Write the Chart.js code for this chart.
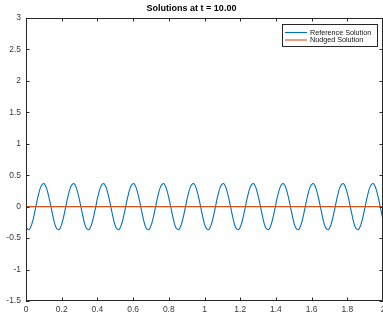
<!DOCTYPE html>
<html>
<head>
<meta charset="utf-8">
<script src="https://cdn.jsdelivr.net/npm/chart.js@4/dist/chart.umd.min.js"></script>
<style>
  html, body { margin: 0; padding: 0; background: #fff; }
  #wrap { width: 383px; height: 320px; }
</style>
</head>
<body>
<div id="wrap"><canvas id="solutions"></canvas></div>
<script>
// values (reference oscillation, nudged flat line)
const refX = [
  0, 0.0168, 0.0335, 0.0503, 0.0671, 0.0839, 0.1006, 0.1174, 0.1342, 0.1509,
  0.1677, 0.1845, 0.2012, 0.218, 0.2348, 0.2516, 0.2683, 0.2851, 0.3019, 0.3186,
  0.3354, 0.3522, 0.3689, 0.3857, 0.4025, 0.4193, 0.436, 0.4528, 0.4696, 0.4863,
  0.5031, 0.5199, 0.5366, 0.5534, 0.5702, 0.587, 0.6037, 0.6205, 0.6373, 0.654,
  0.6708, 0.6876, 0.7043, 0.7211, 0.7379, 0.7547, 0.7714, 0.7882, 0.805, 0.8217,
  0.8385, 0.8553, 0.872, 0.8888, 0.9056, 0.9224, 0.9391, 0.9559, 0.9727, 0.9894,
  1.0062, 1.023, 1.0397, 1.0565, 1.0733, 1.0901, 1.1068, 1.1236, 1.1404, 1.1571,
  1.1739, 1.1907, 1.2074, 1.2242, 1.241, 1.2578, 1.2745, 1.2913, 1.3081, 1.3248,
  1.3416, 1.3584, 1.3751, 1.3919, 1.4087, 1.4255, 1.4422, 1.459, 1.4758, 1.4925,
  1.5093, 1.5261, 1.5428, 1.5596, 1.5764, 1.5932, 1.6099, 1.6267, 1.6435, 1.6602,
  1.677, 1.6938, 1.7105, 1.7273, 1.7441, 1.7609, 1.7776, 1.7944, 1.8112, 1.8279,
  1.8447, 1.8615, 1.8782, 1.895, 1.9118, 1.9286, 1.9453, 1.9621, 1.9789, 1.9956,
  2.0124
];
const refY = [
  -0.327, -0.366, -0.268, -0.068, 0.158, 0.323, 0.367, 0.272, 0.075, -0.151,
  -0.327, -0.366, -0.268, -0.068, 0.158, 0.323, 0.367, 0.272, 0.075, -0.151,
  -0.327, -0.366, -0.268, -0.068, 0.158, 0.323, 0.367, 0.272, 0.075, -0.151,
  -0.327, -0.366, -0.268, -0.068, 0.158, 0.323, 0.367, 0.272, 0.075, -0.151,
  -0.327, -0.366, -0.268, -0.068, 0.158, 0.323, 0.367, 0.272, 0.075, -0.151,
  -0.327, -0.366, -0.268, -0.068, 0.158, 0.323, 0.367, 0.272, 0.075, -0.151,
  -0.327, -0.366, -0.268, -0.068, 0.158, 0.323, 0.367, 0.272, 0.075, -0.151,
  -0.327, -0.366, -0.268, -0.068, 0.158, 0.323, 0.367, 0.272, 0.075, -0.151,
  -0.327, -0.366, -0.268, -0.068, 0.158, 0.323, 0.367, 0.272, 0.075, -0.151,
  -0.327, -0.366, -0.268, -0.068, 0.158, 0.323, 0.367, 0.272, 0.075, -0.151,
  -0.327, -0.366, -0.268, -0.068, 0.158, 0.323, 0.367, 0.272, 0.075, -0.151,
  -0.327, -0.366, -0.268, -0.068, 0.158, 0.323, 0.367, 0.272, 0.075, -0.151,
  -0.327
];
const nudgedX = [0, 2];
const nudgedY = [0, 0];
const xTicks = [0, 0.2, 0.4, 0.6, 0.8, 1, 1.2, 1.4, 1.6, 1.8, 2];
const yTicks = [3, 2.5, 2, 1.5, 1, 0.5, 0, -0.5, -1, -1.5];
const seriesNames = ["Reference Solution", "Nudged Solution"];
const titleText = "Solutions at t = 10.00";

const axisColor = "#262626";
const labelColor = "#3a3a3a";
const tickFont = { family: "'Liberation Sans', Arial, sans-serif", size: 8.5 };

// MATLAB style box, inward ticks and the legend in the top right corner
const matlabAxes = {
    id: "matlabAxes",
    afterDraw(chart) {
        const c = chart.ctx, a = chart.chartArea;
        const xs = chart.scales.x, ys = chart.scales.y;
        c.save();
        c.strokeStyle = axisColor;
        c.lineWidth = 1;
        c.beginPath();
        c.rect(a.left + 0.5, a.top + 0.5, a.right - a.left - 1, a.bottom - a.top - 1);
        xTicks.forEach(v => {
            const px = Math.round(xs.getPixelForValue(v)) + 0.5;
            c.moveTo(px, a.bottom); c.lineTo(px, a.bottom - 3.5);
            c.moveTo(px, a.top); c.lineTo(px, a.top + 3.5);
        });
        yTicks.forEach(v => {
            const py = Math.round(ys.getPixelForValue(v)) + 0.5;
            c.moveTo(a.left, py); c.lineTo(a.left + 3.5, py);
            c.moveTo(a.right, py); c.lineTo(a.right - 3.5, py);
        });
        c.stroke();

        // legend box
        const bx = 282, by = 24, bw = 95, bh = 22;
        c.fillStyle = "#fff";
        c.fillRect(bx, by, bw, bh);
        c.strokeStyle = "#262626";
        c.strokeRect(bx + 0.5, by + 0.5, bw, bh);
        c.font = "7.2px 'Liberation Sans', Arial, sans-serif";
        c.textBaseline = "middle";
        chart.data.datasets.forEach((ds, i) => {
            const ly = by + 8.5 + i * 7.5;
            c.strokeStyle = ds.borderColor;
            c.lineWidth = 1.1;
            c.beginPath();
            c.moveTo(bx + 3, ly); c.lineTo(bx + 25, ly);
            c.stroke();
            c.fillStyle = "#111";
            c.fillText(ds.label, bx + 28, ly + 0.5);
        });
        c.restore();
    }
};

const whiteBg = {
    id: "whiteBg",
    beforeDraw(chart) {
        const c = chart.ctx;
        c.save();
        c.fillStyle = "#fff";
        c.fillRect(0, 0, chart.width, chart.height);
        c.restore();
    }
};

const ctx = document.getElementById("solutions").getContext("2d");
const solutionsChart = new Chart(ctx, {
    type: "line",
    data: {
        datasets: [{
            label: seriesNames[0],
            data: refX.map((x, i) => ({ x: x, y: refY[i] })),
            borderColor: "rgb(0, 114, 189)",
            borderWidth: 1.1,
            pointRadius: 0,
            tension: 0.35,
            fill: false,
            order: 2
        },
        {
            label: seriesNames[1],
            data: nudgedX.map((x, i) => ({ x: x, y: nudgedY[i] })),
            borderColor: "rgb(217, 83, 25)",
            borderWidth: 1.3,
            pointRadius: 0,
            fill: false,
            order: 1
        }]
    },
    options: {
        responsive: true,
        maintainAspectRatio: false,
        animation: false,
        layout: { padding: 0 },
        scales: {
            x: {
                type: "linear",
                min: 0,
                max: 2,
                afterBuildTicks: s => { s.ticks = xTicks.map(v => ({ value: v })); },
                afterFit: s => { s.height = 19; s.paddingLeft = 0; s.paddingRight = 0; },
                grid: { display: false, drawTicks: false },
                border: { display: false },
                ticks: {
                    color: labelColor,
                    font: tickFont,
                    padding: 4,
                    maxRotation: 0,
                    autoSkip: false,
                    callback: v => String(Math.round(v * 10) / 10)
                }
            },
            y: {
                type: "linear",
                min: -1.5,
                max: 3,
                afterBuildTicks: s => { s.ticks = yTicks.map(v => ({ value: v })); },
                afterFit: s => { s.width = 26; s.paddingTop = 0; s.paddingBottom = 0; },
                grid: { display: false, drawTicks: false },
                border: { display: false },
                ticks: {
                    color: labelColor,
                    font: tickFont,
                    padding: 5,
                    autoSkip: false,
                    callback: v => String(Math.round(v * 10) / 10)
                }
            }
        },
        plugins: {
            legend: { display: false },
            tooltip: { enabled: false },
            title: {
                display: true,
                text: titleText,
                color: "#000",
                font: { family: "'Liberation Sans', Arial, sans-serif", size: 9, weight: "bold" },
                padding: { top: 3, bottom: 4.2 }
            }
        }
    },
    plugins: [whiteBg, matlabAxes]
});
</script>
</body>
</html>
